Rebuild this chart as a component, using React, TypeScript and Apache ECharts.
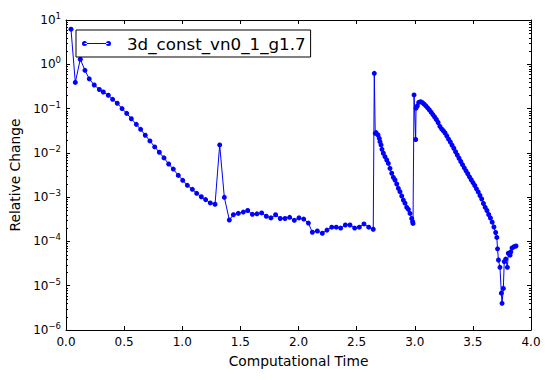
import React, { useEffect, useRef } from "react";
import * as echarts from "echarts";

const seriesName = "3d_const_vn0_1_g1.7";

const time = [
  0.043, 0.080, 0.123, 0.163, 0.200, 0.243, 0.287, 0.321, 0.364, 0.401,
  0.441, 0.482, 0.522, 0.562, 0.605, 0.642, 0.682, 0.722, 0.763, 0.803,
  0.843, 0.883, 0.923, 0.966, 1.004, 1.044, 1.087, 1.124, 1.164, 1.201,
  1.241, 1.282, 1.322, 1.362, 1.405, 1.440, 1.482, 1.525, 1.563, 1.603,
  1.643, 1.683, 1.723, 1.763, 1.803, 1.843, 1.884, 1.924, 1.964, 2.004,
  2.045, 2.085, 2.119, 2.162, 2.205, 2.245, 2.286, 2.325, 2.363, 2.403,
  2.443, 2.483, 2.523, 2.563, 2.604, 2.643, 2.652, 2.660, 2.667, 2.684,
  2.695, 2.701, 2.710, 2.718, 2.730, 2.744, 2.759, 2.773, 2.787, 2.802,
  2.816, 2.830, 2.845, 2.859, 2.873, 2.888, 2.902, 2.916, 2.931, 2.945,
  2.959, 2.974, 2.982, 2.985, 2.994, 3.008, 3.011, 3.022, 3.034, 3.051,
  3.066, 3.081, 3.096, 3.111, 3.126, 3.141, 3.156, 3.171, 3.186, 3.201,
  3.216, 3.231, 3.246, 3.261, 3.276, 3.291, 3.306, 3.321, 3.336, 3.351,
  3.366, 3.381, 3.396, 3.411, 3.426, 3.441, 3.456, 3.471, 3.486, 3.501,
  3.516, 3.531, 3.546, 3.561, 3.576, 3.591, 3.606, 3.621, 3.636, 3.651,
  3.666, 3.681, 3.696, 3.706, 3.712, 3.720, 3.733, 3.745, 3.751, 3.762,
  3.770, 3.782, 3.797, 3.805, 3.820, 3.826, 3.837, 3.854, 3.871,
];

const relChange = [
  6.2, 0.39, 1.30, 0.73, 0.47, 0.34, 0.27, 0.237, 0.20, 0.162,
  0.132, 0.100, 0.078, 0.059, 0.044, 0.034, 0.025, 0.0186, 0.0136, 0.0103,
  0.0077, 0.0056, 0.0043, 0.0031, 0.0024, 0.00185, 0.0015, 0.00122, 0.00102, 0.00088,
  0.00074, 0.00069, 0.0151, 0.00099, 0.000305, 0.00040, 0.00043, 0.00046, 0.00050, 0.00041,
  0.00042, 0.00044, 0.00037, 0.00034, 0.00040, 0.00033, 0.00033, 0.00035, 0.00030, 0.00034,
  0.00032, 0.00026, 0.000161, 0.000172, 0.000153, 0.00018, 0.00021, 0.00021, 0.00020, 0.000235,
  0.000235, 0.00020, 0.00021, 0.000248, 0.00021, 0.000188, 0.625, 0.0276, 0.0286, 0.0253,
  0.0213, 0.0179, 0.0151, 0.0120, 0.0098, 0.0082, 0.0069, 0.0058, 0.00448, 0.00346,
  0.0028, 0.00244, 0.00198, 0.00158, 0.00133, 0.00106, 0.00086, 0.00073, 0.00059, 0.00053,
  0.00043, 0.00033, 0.00028, 0.000255, 0.203, 0.020, 0.102, 0.115, 0.138, 0.143,
  0.136, 0.126, 0.115, 0.104, 0.0934, 0.0828, 0.0731, 0.0645, 0.0567, 0.0485,
  0.0398, 0.0349, 0.0315, 0.0281, 0.0240, 0.0204, 0.0176, 0.0149, 0.0127, 0.0106,
  0.00895, 0.00754, 0.00638, 0.00541, 0.00460, 0.00392, 0.00337, 0.00288, 0.00247, 0.00213,
  0.00183, 0.00154, 0.00131, 0.00109, 0.000908, 0.000719, 0.000590, 0.000500, 0.000406, 0.000338,
  0.000272, 0.000212, 0.000159, 0.000123, 0.000068, 0.000038, 0.000026, 0.0000068, 0.0000040, 0.0000087,
  0.000035, 0.000040, 0.000026, 0.000054, 0.000049, 0.000058, 0.000071, 0.000076, 0.000079,
];

const xTickLabels = ["0.0", "0.5", "1.0", "1.5", "2.0", "2.5", "3.0", "3.5", "4.0"];
const yDecades = [-6, -5, -4, -3, -2, -1, 0, 1];
const minorMultipliers = [2, 3, 4, 5, 6, 7, 8, 9];

const FONT = "DejaVu Sans";

export default function App() {
  const ref = useRef<HTMLDivElement>(null);

  useEffect(() => {
    if (!ref.current) return;
    const chart = echarts.init(ref.current, undefined, { renderer: "svg" });

    const minorTicks: number[][] = [];
    for (let i = 0; i < yDecades.length - 1; i++) {
      for (const m of minorMultipliers) {
        minorTicks.push([0, m * Math.pow(10, yDecades[i])]);
      }
    }

    const axisLine = { show: true, onZero: false, lineStyle: { color: "#000", width: 1 } };
    const majorTick = { show: true, inside: true, length: 4, lineStyle: { color: "#000", width: 1 } };

    const supFmt = (v: number) => {
      const e = Math.round(Math.log10(v));
      const s = e < 0 ? "\u2212" + String(-e) : String(e);
      return `{b|10}{s|${s}}`;
    };

    const option: any = {
      animation: false,
      backgroundColor: "#fff",
      grid: { left: 66, right: 21, top: 20, bottom: 50, containLabel: false },
      legend: {
        show: true,
        data: [seriesName],
        left: 76,
        top: 30,
        orient: "horizontal",
        icon:
          "path://M0,2.5A2.5,2.5 0 1,0 5,2.5A2.5,2.5 0 1,0 0,2.5Z M24,2.5A2.5,2.5 0 1,0 29,2.5A2.5,2.5 0 1,0 24,2.5Z M2.5,2H26.5V3H2.5Z",
        itemWidth: 29,
        itemHeight: 5,
        padding: [5, 5, 5, 6],
        backgroundColor: "#fff",
        borderColor: "#000",
        borderWidth: 1,
        borderRadius: 0,
        formatter: (name: string) => `{p|}{t|${name}}`,
        textStyle: {
          color: "#000",
          fontFamily: FONT,
          fontSize: 16.7,
          rich: {
            p: { width: 11 },
            t: { fontSize: 16.7, fontFamily: FONT, color: "#000", lineHeight: 19 },
          },
        },
        selectedMode: false,
      },
      xAxis: [
        {
          type: "value",
          min: 0,
          max: 4,
          interval: 0.5,
          position: "bottom",
          axisLine,
          axisTick: majorTick,
          splitLine: { show: false },
          axisLabel: {
            color: "#000",
            fontFamily: FONT,
            fontSize: 12,
            margin: 6,
            formatter: (v: number) => xTickLabels[Math.round(v / 0.5)] ?? v.toFixed(1),
          },
          name: "Computational Time",
          nameLocation: "middle",
          nameGap: 24,
          nameTextStyle: { color: "#000", fontFamily: FONT, fontSize: 13.8 },
        },
        {
          type: "value",
          min: 0,
          max: 4,
          interval: 0.5,
          position: "top",
          axisLine,
          axisTick: majorTick,
          splitLine: { show: false },
          axisLabel: { show: false },
        },
      ],
      yAxis: [
        {
          type: "log",
          logBase: 10,
          min: 1e-6,
          max: 10,
          splitNumber: 7,
          position: "left",
          axisLine,
          axisTick: majorTick,
          minorTick: { show: false },
          splitLine: { show: false },
          axisLabel: {
            margin: 5,
            formatter: supFmt,
            rich: {
              b: { fontFamily: FONT, fontSize: 12, color: "#000" },
              s: { fontFamily: FONT, fontSize: 8.5, color: "#000", padding: [0, 0, 8, 0] },
            },
          },
          name: "Relative Change",
          nameLocation: "middle",
          nameGap: 42,
          nameRotate: 90,
          nameTextStyle: { color: "#000", fontFamily: FONT, fontSize: 13.8 },
        },
        {
          type: "log",
          logBase: 10,
          min: 1e-6,
          max: 10,
          splitNumber: 7,
          position: "right",
          axisLine,
          axisTick: majorTick,
          splitLine: { show: false },
          axisLabel: { show: false },
        },
      ],
      series: [
        {
          type: "custom",
          name: "minorTicks",
          xAxisIndex: 0,
          yAxisIndex: 0,
          silent: true,
          z: 1,
          data: minorTicks,
          encode: { x: 0, y: 1 },
          renderItem: (params: any, api: any) => {
            const v = api.value(1);
            const pl = api.coord([0, v]);
            const pr = api.coord([4, v]);
            const y = Math.round(pl[1]) + 0.5;
            return {
              type: "group",
              children: [
                {
                  type: "line",
                  shape: { x1: pl[0], y1: y, x2: pl[0] + 2, y2: y },
                  style: { stroke: "#000", lineWidth: 1 },
                },
                {
                  type: "line",
                  shape: { x1: pr[0] - 2, y1: y, x2: pr[0], y2: y },
                  style: { stroke: "#000", lineWidth: 1 },
                },
              ],
            };
          },
        },
        {
          type: "line",
          name: seriesName,
          xAxisIndex: 0,
          yAxisIndex: 0,
          data: time.map((t, i) => [t, relChange[i]]),
          color: "#0000ff",
          lineStyle: { color: "#0000ff", width: 1 },
          itemStyle: { color: "#0000ff" },
          symbol: "circle",
          symbolSize: 5,
          showSymbol: true,
          showAllSymbol: true,
          z: 3,
        },
      ],
    };

    chart.setOption(option);
    return () => chart.dispose();
  }, []);

  return (
    <div
      ref={ref}
      style={{ position: "fixed", left: 0, top: 0, width: 552, height: 380, background: "#fff" }}
    />
  );
}
